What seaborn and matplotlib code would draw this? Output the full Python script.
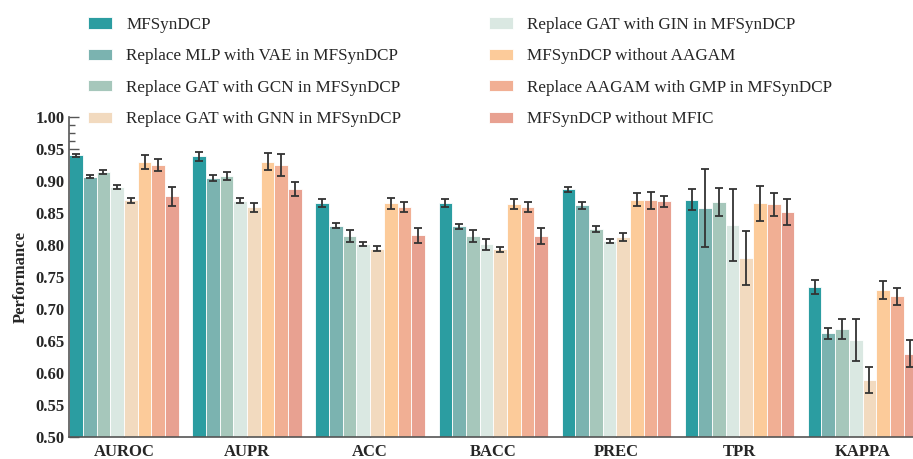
import numpy as np
import pandas as pd
import matplotlib
matplotlib.use("Agg")
import matplotlib.pyplot as plt
import seaborn as sns

metrics = ["AUROC", "AUPR", "ACC", "BACC", "PREC", "TPR", "KAPPA"]
models = [
    "MFSynDCP",
    "Replace MLP with VAE in MFSynDCP",
    "Replace GAT with GCN in MFSynDCP",
    "Replace GAT with GIN in MFSynDCP",
    "Replace GAT with GNN in MFSynDCP",
    "MFSynDCP without AAGAM",
    "Replace AAGAM with GMP in MFSynDCP",
    "MFSynDCP without MFIC",
]
colors = ["#2B9DA1", "#7BB3B0", "#A6C7BB", "#DAE8E2", "#F2DABF", "#FCCB9A", "#F1AF94", "#E8A191"]

# values[model][metric]
mfsyndcp = [0.940, 0.939, 0.866, 0.866, 0.887, 0.871, 0.734]
vae      = [0.907, 0.905, 0.830, 0.829, 0.862, 0.858, 0.662]
gcn      = [0.914, 0.908, 0.814, 0.814, 0.825, 0.867, 0.669]
gin      = [0.890, 0.869, 0.801, 0.801, 0.806, 0.831, 0.652]
gnn      = [0.870, 0.859, 0.794, 0.793, 0.812, 0.780, 0.589]
no_aagam = [0.929, 0.930, 0.865, 0.864, 0.871, 0.865, 0.730]
gmp      = [0.925, 0.925, 0.859, 0.859, 0.870, 0.864, 0.720]
no_mfic  = [0.876, 0.888, 0.815, 0.814, 0.868, 0.852, 0.630]

err_mfsyndcp = [0.002, 0.007, 0.006, 0.006, 0.004, 0.016, 0.011]
err_vae      = [0.003, 0.005, 0.004, 0.004, 0.005, 0.061, 0.009]
err_gcn      = [0.003, 0.006, 0.009, 0.009, 0.005, 0.022, 0.016]
err_gin      = [0.003, 0.004, 0.003, 0.009, 0.003, 0.056, 0.033]
err_gnn      = [0.004, 0.007, 0.004, 0.004, 0.006, 0.042, 0.021]
err_no_aagam = [0.011, 0.013, 0.008, 0.008, 0.010, 0.027, 0.014]
err_gmp      = [0.009, 0.017, 0.008, 0.008, 0.013, 0.018, 0.0135]
err_no_mfic  = [0.015, 0.011, 0.012, 0.012, 0.009, 0.020, 0.021]

vals = [mfsyndcp, vae, gcn, gin, gnn, no_aagam, gmp, no_mfic]
errs = [err_mfsyndcp, err_vae, err_gcn, err_gin, err_gnn, err_no_aagam, err_gmp, err_no_mfic]

rows = []
for m, v, e in zip(models, vals, errs):
    for met, vv, ee in zip(metrics, v, e):
        rows.append({"Model": m, "Metric": met, "Value": vv, "Err": ee})
df = pd.DataFrame(rows)

sns.set_style("ticks")
plt.rcParams["font.family"] = ["Liberation Serif", "DejaVu Serif"]
plt.rcParams["font.size"] = 12

fig = plt.figure(figsize=(9.13, 4.59), dpi=100)
ax = fig.add_axes([69 / 913, 22 / 459, 1 - 69 / 913, (437 - 117) / 459])

sns.barplot(data=df, x="Metric", y="Value", hue="Model", order=metrics,
            hue_order=models, palette=colors, width=0.89, errorbar=None,
            edgecolor="white", linewidth=0.6, saturation=1, ax=ax)

for cont, e in zip(ax.containers, errs):
    xs = [b.get_x() + b.get_width() / 2 for b in cont]
    ys = [b.get_height() for b in cont]
    ax.errorbar(xs, ys, yerr=e, fmt="none", ecolor="#333333", elinewidth=1.3,
                capsize=3, capthick=1.3, zorder=5)

handles, labels = ax.get_legend_handles_labels()
ax.get_legend().remove()
order = [0, 1, 2, 4, 3, 5, 6, 7]
fig.legend([handles[i] for i in order], [labels[i] for i in order],
           loc="upper left", bbox_to_anchor=(88 / 913, 1 - 17 / 459),
           ncol=2, frameon=False, borderpad=0, borderaxespad=0,
           handlelength=1.42, handleheight=0.63, handletextpad=0.83,
           labelspacing=0.9, columnspacing=5.1, fontsize=12.3)

ax.set_ylim(0.5, 1.0)
ax.set_xlim(-0.447, 6.41)
ax.set_yticks(np.arange(0.5, 1.0001, 0.05))
ax.set_yticks(np.arange(0.5, 1.0001, 0.0125), minor=True)
ax.yaxis.set_major_formatter(matplotlib.ticker.FormatStrFormatter("%.2f"))
ax.tick_params(axis="y", which="major", direction="in", length=7, width=1.0,
               color="#555555", labelsize=12, pad=3)
ax.tick_params(axis="y", which="minor", direction="in", length=4, width=1.0, color="#555555")
ax.tick_params(axis="x", which="major", direction="in", length=8, width=1.0,
               color="#555555", labelsize=12, pad=5)
for lab in ax.get_xticklabels() + ax.get_yticklabels():
    lab.set_fontweight("bold")
ax.set_xlabel("")
ax.set_ylabel("Performance", fontsize=12, fontweight="bold", labelpad=5)
for s in ["top", "right"]:
    ax.spines[s].set_visible(False)
for s in ["left", "bottom"]:
    ax.spines[s].set_color("#555555")
    ax.spines[s].set_linewidth(1.2)

fig.savefig("out.png", dpi=100)
